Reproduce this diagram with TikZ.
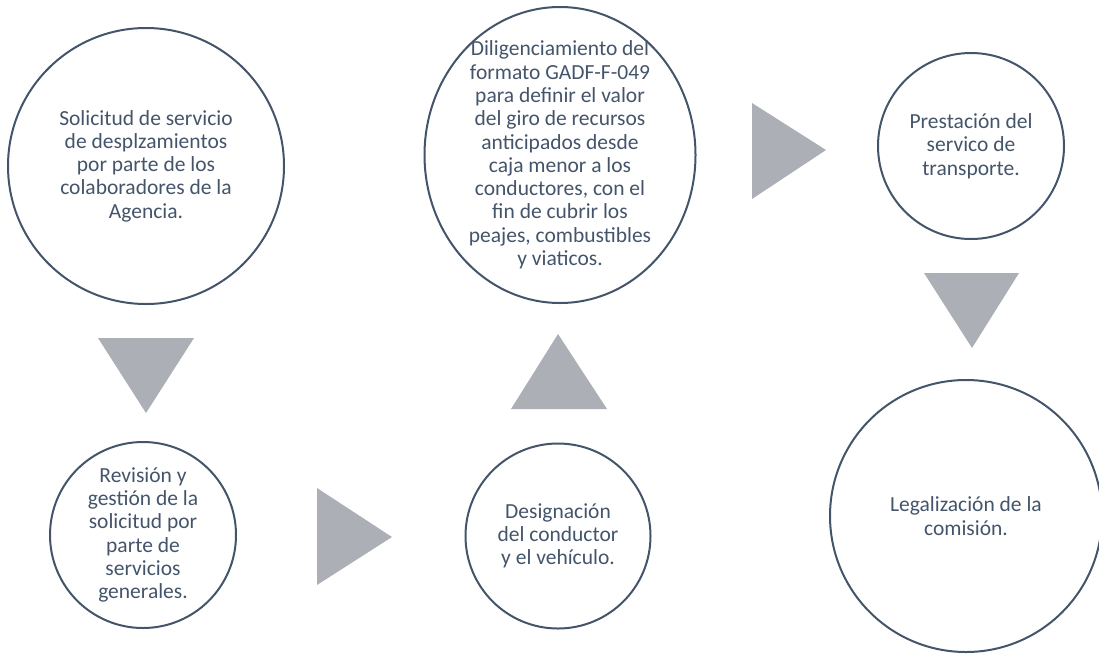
\documentclass[tikz,border=0pt]{standalone}
\usepackage{fontspec}
\setmainfont{Carlito}
\usepackage{xcolor}
\usetikzlibrary{shapes.geometric, positioning}
\definecolor{oscuro}{HTML}{44546A}
\definecolor{flechagris}{HTML}{ADAFB7}

\begin{document}
\begin{tikzpicture}[
  x=1pt, y=-1pt,
  etapa/.style={draw=oscuro, line width=2pt, circle, inner sep=0pt,
                align=center, text=oscuro, font=\fontsize{21.5}{23.3}\selectfont},
  texto/.style={align=center, text=oscuro, inner sep=0pt,
                font=\fontsize{21.5}{23.3}\selectfont},
  flecha/.style={fill=flechagris},
]
  \useasboundingbox (0,0) rectangle (1099,654);

  % Etapas
  \node[etapa, minimum size=276] (solicitud) at (146,166)
       {Solicitud de servicio\\de desplzamientos\\por parte de los\\colaboradores de la\\Agencia.};
  \node[etapa, minimum size=186] (revision) at (143,535)
       {Revisión y\\gestión de la\\solicitud por\\parte de\\servicios\\generales.};
  \node[etapa, minimum size=185] (designacion) at (558,536)
       {Designación\\del conductor\\y el vehículo.};
  \node[draw=oscuro, line width=2pt, ellipse, minimum width=271, minimum height=296]
       (dilig) at (560,155) {};
  \node[texto] (diligtexto) at (dilig.center)
       {Diligenciamiento del\\formato GADF-F-049\\para definir el valor\\del giro de recursos\\anticipados desde\\caja menor a los\\conductores, con el\\fin de cubrir los\\peajes, combustibles\\y viaticos.};
  \node[etapa, minimum size=186] (prestacion) at (971,146)
       {Prestación del\\servico de\\transporte.};
  \node[etapa, minimum size=272] (legalizacion) at (966,516)
       {Legalización de la\\comisión.};

  % Flechas
  \fill[flecha] (98,338) -- (194,338) -- (146,413) -- cycle;
  \fill[flecha] (317,488) -- (392,537) -- (317,585) -- cycle;
  \fill[flecha] (511,409) -- (558,334) -- (607,409) -- cycle;
  \fill[flecha] (752,103) -- (826,150) -- (752,199) -- cycle;
  \fill[flecha] (924,273) -- (1019,273) -- (972,348) -- cycle;
\end{tikzpicture}
\end{document}
